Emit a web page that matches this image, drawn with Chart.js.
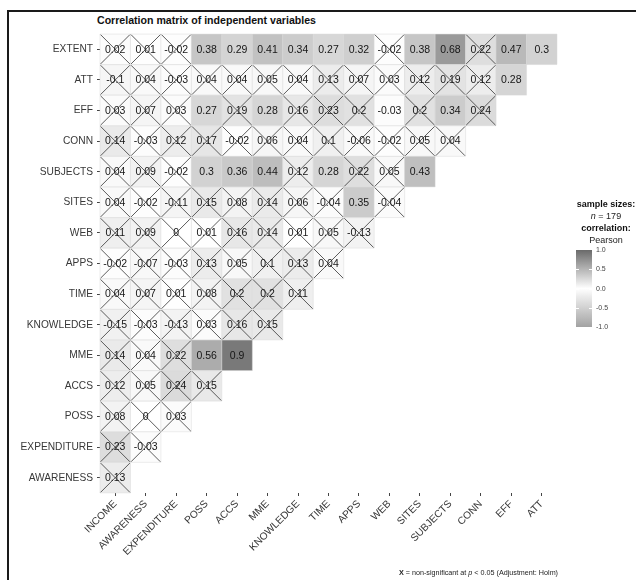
<!DOCTYPE html>
<html>
<head>
<meta charset="utf-8">
<script src="https://cdn.jsdelivr.net/npm/chart.js@4/dist/chart.umd.min.js"></script>
<style>
  html, body { margin: 0; padding: 0; background: #fff; }
  #wrap { position: relative; width: 636px; height: 580px; overflow: hidden; font-family: "Liberation Sans", Arial, sans-serif; }
  #frame { position: absolute; left: 7px; top: 10px; width: 700px; height: 700px; border-left: 2px solid #1a1a1a; border-top: 2px solid #1a1a1a; }
  #title { position: absolute; left: 97px; top: 14px; font-size: 10.6px; font-weight: bold; color: #111; white-space: nowrap; }
  canvas { position: absolute; left: 0; top: 0; }
  .lg { position: absolute; left: 566px; width: 80px; text-align: center; font-size: 9px; color: #222; white-space: nowrap; line-height: 11px; }
  .lg.b { font-weight: bold; color: #111; }
  #bar { position: absolute; left: 576px; top: 250px; width: 16px; height: 77px; }
  .bt { position: absolute; left: 596px; font-size: 7px; color: #444; line-height: 8px; }
  .bm { position: absolute; width: 3px; height: 1px; background: #fff; }
  #foot { position: absolute; left: 399px; top: 568px; font-size: 7.2px; color: #222; white-space: nowrap; }
</style>
</head>
<body>
<div id="wrap">
  <div id="frame"></div>
  <div id="title">Correlation matrix of independent variables</div>
  <canvas id="c" width="636" height="580"></canvas>
  <div class="lg b" style="top:199px">sample sizes:</div>
  <div class="lg" style="top:211px"><i>n</i> = 179</div>
  <div class="lg b" style="top:223px">correlation:</div>
  <div class="lg" style="top:235px">Pearson</div>
  <div id="bar"></div>
  <div id="foot"><b>X</b> = non-significant at <i>p</i> &lt; 0.05 (Adjustment: Holm)</div>
</div>
<script>
// Variable names along each axis
const columnLabels = ['INCOME', 'AWARENESS', 'EXPENDITURE', 'POSS', 'ACCS', 'MME', 'KNOWLEDGE',
  'TIME', 'APPS', 'WEB', 'SITES', 'SUBJECTS', 'CONN', 'EFF', 'ATT'];
const rowLabels = ['EXTENT', 'ATT', 'EFF', 'CONN', 'SUBJECTS', 'SITES', 'WEB', 'APPS', 'TIME',
  'KNOWLEDGE', 'MME', 'ACCS', 'POSS', 'EXPENDITURE', 'AWARENESS'];

// Pearson r for each row (left to right), and 1 where the correlation is non-significant
const rEXTENT = [0.02, 0.01, -0.02, 0.38, 0.29, 0.41, 0.34, 0.27, 0.32, -0.02, 0.38, 0.68, 0.22, 0.47, 0.3];
const nsEXTENT = [1, 1, 1, 0, 0, 0, 0, 0, 0, 1, 0, 0, 1, 0, 0];
const rATT = [-0.1, 0.04, -0.03, 0.04, 0.04, 0.05, 0.04, 0.13, 0.07, 0.03, 0.12, 0.19, 0.12, 0.28];
const nsATT = [1, 1, 1, 1, 1, 1, 1, 1, 1, 1, 1, 1, 1, 0];
const rEFF = [0.03, 0.07, 0.03, 0.27, 0.19, 0.28, 0.16, 0.23, 0.2, -0.03, 0.2, 0.34, 0.24];
const nsEFF = [1, 1, 1, 0, 1, 0, 1, 1, 1, 0, 1, 0, 1];
const rCONN = [0.14, -0.03, 0.12, 0.17, -0.02, 0.06, 0.04, 0.1, -0.06, -0.02, 0.05, 0.04];
const nsCONN = [1, 1, 1, 1, 1, 1, 1, 1, 1, 1, 1, 1];
const rSUBJECTS = [0.04, 0.09, -0.02, 0.3, 0.36, 0.44, 0.12, 0.28, 0.22, 0.05, 0.43];
const nsSUBJECTS = [1, 1, 1, 0, 0, 0, 1, 0, 1, 1, 0];
const rSITES = [0.04, -0.02, -0.11, 0.15, 0.08, 0.14, 0.06, -0.04, 0.35, -0.04];
const nsSITES = [1, 1, 1, 1, 1, 1, 1, 1, 0, 1];
const rWEB = [0.11, 0.09, 0, 0.01, 0.16, 0.14, 0.01, 0.05, -0.13];
const nsWEB = [1, 1, 1, 1, 1, 1, 1, 1, 1];
const rAPPS = [-0.02, -0.07, -0.03, 0.13, 0.05, 0.1, 0.13, 0.04];
const nsAPPS = [1, 1, 1, 1, 1, 1, 1, 1];
const rTIME = [0.04, 0.07, 0.01, 0.08, 0.2, 0.2, 0.11];
const nsTIME = [1, 1, 1, 1, 1, 1, 1];
const rKNOWLEDGE = [-0.15, -0.03, -0.13, 0.03, 0.16, 0.15];
const nsKNOWLEDGE = [1, 1, 1, 1, 1, 1];
const rMME = [0.14, 0.04, 0.22, 0.56, 0.9];
const nsMME = [1, 1, 1, 0, 0];
const rACCS = [0.12, 0.05, 0.24, 0.15];
const nsACCS = [1, 1, 1, 1];
const rPOSS = [0.08, 0, 0.03];
const nsPOSS = [1, 1, 1];
const rEXPENDITURE = [0.23, -0.03];
const nsEXPENDITURE = [1, 1];
const rAWARENESS = [0.13];
const nsAWARENESS = [1];

// Colour-bar tick values
const legendTicks = [1, 0.5, 0, -0.5, -1];

const rowValues = [rEXTENT, rATT, rEFF, rCONN, rSUBJECTS, rSITES, rWEB, rAPPS, rTIME,
  rKNOWLEDGE, rMME, rACCS, rPOSS, rEXPENDITURE, rAWARENESS];
const rowNS = [nsEXTENT, nsATT, nsEFF, nsCONN, nsSUBJECTS, nsSITES, nsWEB, nsAPPS, nsTIME,
  nsKNOWLEDGE, nsMME, nsACCS, nsPOSS, nsEXPENDITURE, nsAWARENESS];

// Diverging grey scale: -1 light grey, 0 white, +1 dark grey
function shade(v) {
  const end = v >= 0 ? 106 : 162;
  const g = Math.round(255 - Math.abs(v) * (255 - end));
  return `rgb(${g},${g},${g})`;
}
function fmt(v) { return String(Number(v.toFixed(2))); }

const cells = [];
const crosses = [];
rowValues.forEach((vals, i) => {
  vals.forEach((v, j) => {
    cells.push({ x: columnLabels[j], y: rowLabels[i], v: v });
    if (rowNS[i][j]) crosses.push({ x: columnLabels[j], y: rowLabels[i] });
  });
});

function halfCell(ctx) {
  const xs = ctx.chart.scales.x;
  return Math.abs(xs.getPixelForValue(1) - xs.getPixelForValue(0)) / 2;
}

const FONT = '"Liberation Sans", Arial, sans-serif';

const cellText = {
  id: 'cellText',
  afterDatasetsDraw(chart) {
    const meta = chart.getDatasetMeta(0);
    const data = chart.data.datasets[0].data;
    const c = chart.ctx;
    c.save();
    c.font = '10.5px ' + FONT;
    c.fillStyle = '#161616';
    c.textAlign = 'center';
    c.textBaseline = 'middle';
    meta.data.forEach((pt, i) => c.fillText(fmt(data[i].v), pt.x, pt.y + 0.5));
    c.restore();
  }
};

const axisTicks = { color: '#383838', font: { size: 10.2, family: FONT } };

new Chart(document.getElementById('c'), {
  type: 'scatter',
  data: {
    datasets: [
      {
        data: cells,
        order: 2,
        pointStyle: 'rect',
        radius: ctx => halfCell(ctx) / Math.SQRT1_2,
        backgroundColor: ctx => shade(ctx.raw.v),
        borderColor: 'rgba(215,215,215,0.9)',
        borderWidth: 0.5
      },
      {
        data: crosses,
        order: 1,
        pointStyle: 'crossRot',
        radius: ctx => halfCell(ctx) * 0.96 / Math.SQRT1_2,
        borderColor: '#404040',
        borderWidth: 0.85
      }
    ]
  },
  options: {
    responsive: false,
    animation: false,
    events: [],
    layout: { padding: { left: 0, top: 34, right: 79, bottom: 0 } },
    plugins: { legend: { display: false }, tooltip: { enabled: false } },
    scales: {
      x: {
        type: 'category',
        labels: columnLabels,
        offset: true,
        border: { display: false },
        grid: { drawOnChartArea: false, drawTicks: true, tickLength: 3, color: '#444', offset: false },
        ticks: Object.assign({ autoSkip: false, minRotation: 45, maxRotation: 45, padding: 2 }, axisTicks),
        afterFit: s => { s.height = 87; }
      },
      y: {
        type: 'category',
        labels: rowLabels,
        offset: true,
        border: { display: false },
        grid: { drawOnChartArea: false, drawTicks: true, tickLength: 3, color: '#444', offset: false },
        ticks: Object.assign({ autoSkip: false, padding: 4 }, axisTicks),
        afterFit: s => { s.width = 100; }
      }
    }
  },
  plugins: [cellText]
});

// Colour bar legend
(function () {
  const bar = document.getElementById('bar');
  const wrap = document.getElementById('wrap');
  const stops = [];
  for (let k = 0; k <= 20; k++) {
    const v = 1 - k / 10;
    stops.push(`${shade(v)} ${(k / 20 * 100).toFixed(1)}%`);
  }
  bar.style.background = `linear-gradient(to bottom, ${stops.join(', ')})`;
  const top = 250, h = 77, left = 576, w = 16;
  legendTicks.forEach(t => {
    const y = top + (1 - t) / 2 * h;
    const lab = document.createElement('div');
    lab.className = 'bt';
    lab.style.top = (y - 4) + 'px';
    lab.textContent = t.toFixed(1);
    wrap.appendChild(lab);
    if (Math.abs(t) < 1) {
      [left, left + w - 3].forEach(x => {
        const m = document.createElement('div');
        m.className = 'bm';
        m.style.left = x + 'px';
        m.style.top = Math.round(y) + 'px';
        wrap.appendChild(m);
      });
    }
  });
})();
</script>
</body>
</html>
